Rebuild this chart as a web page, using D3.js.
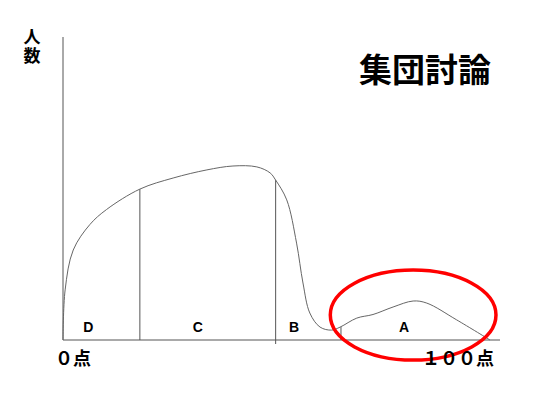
<!DOCTYPE html>
<html>
<head>
<meta charset="utf-8">
<script src="https://cdn.jsdelivr.net/npm/d3@7.9.0/dist/d3.min.js"></script>
<style>
  html, body { margin: 0; padding: 0; background: #fff; }
  svg { display: block; }
  .jp { font-family: "Noto Sans CJK JP", "Noto Sans", sans-serif; font-weight: 700; fill: #000; }
  .grade { font-family: "Liberation Sans", Arial, sans-serif; font-weight: 700; font-size: 14px; fill: #000; }
</style>
</head>
<body>
<svg id="chart" width="550" height="412"></svg>
<script>
// score (0-100) vs number of people
const scores = [0, 0.5, 2.4, 6.3, 10.2, 18, 25.8, 33.7, 39.8, 45.4, 48.5, 49.8, 52.4, 54.7, 56.2, 57.8, 60.2, 62.9, 64.9, 68.8, 72.6, 77.3, 82, 85.2, 92.2, 100];
const people = [0, 16.7, 30, 38.5, 43.5, 50.3, 54, 56.7, 58, 57.7, 55.7, 53.3, 46.7, 32.3, 19, 9, 4.3, 3.3, 4.3, 7.3, 8.5, 11, 13, 12.3, 6.7, 0];

// grade boundaries and where they meet the curve
const cutScores = [18, 49.8, 65.1];
const cutTops = [50.3, 53.3, 4.4];

const grades = ['D', 'C', 'B', 'A'];
const gradeX = [5.9, 31.6, 54.1, 79.9];

const title = '集団討論';
const yLabel = '人数';
const xTickLabels = ['０点', '１００点'];

// highlighted region around A
const ringCenter = [82, 8.3];
const ringRadius = [19.4, 15];

const svg = d3.select('#chart');

const x = d3.scaleLinear().domain([0, 100]).range([63, 490]);
const y = d3.scaleLinear().domain([0, 100]).range([340, 40]);

// axes
svg.append('line')
  .attr('x1', x(0)).attr('x2', x(0))
  .attr('y1', 37).attr('y2', y(0))
  .attr('stroke', '#555').attr('stroke-width', 1);
svg.append('line')
  .attr('x1', x(0)).attr('x2', 500)
  .attr('y1', y(0)).attr('y2', y(0))
  .attr('stroke', '#555').attr('stroke-width', 1);

// grade dividers
cutScores.forEach((s, i) => {
  svg.append('line')
    .attr('x1', x(s)).attr('x2', x(s))
    .attr('y1', i === 1 ? y(0) + 4 : y(0)).attr('y2', y(cutTops[i]))
    .attr('stroke', '#555').attr('stroke-width', 1);
});

// distribution curve
const pts = scores.map((s, i) => [s, people[i]]);
const line = d3.line()
  .x((d) => x(d[0]))
  .y((d) => y(d[1]))
  .curve(d3.curveCatmullRom.alpha(0.5));

svg.append('path')
  .attr('d', line(pts))
  .attr('fill', 'none')
  .attr('stroke', '#666')
  .attr('stroke-width', 1);

// grade letters
grades.forEach((g, i) => {
  svg.append('text')
    .attr('class', 'grade')
    .attr('x', x(gradeX[i]))
    .attr('y', 332)
    .attr('text-anchor', 'middle')
    .text(g);
});

// red ring
svg.append('ellipse')
  .attr('cx', x(ringCenter[0]))
  .attr('cy', y(ringCenter[1]))
  .attr('rx', x(ringRadius[0]) - x(0))
  .attr('ry', y(0) - y(ringRadius[1]))
  .attr('fill', 'none')
  .attr('stroke', '#f00')
  .attr('stroke-width', 3.5);

// title
svg.append('text')
  .attr('class', 'jp')
  .attr('x', 491)
  .attr('y', 82)
  .attr('text-anchor', 'end')
  .attr('font-size', 33)
  .text(title);

// y label, written top to bottom
svg.append('text')
  .attr('class', 'jp')
  .attr('x', 32)
  .attr('y', 28)
  .attr('writing-mode', 'tb')
  .attr('font-size', 17)
  .attr('letter-spacing', 2)
  .text(yLabel);

// x end labels
svg.append('text')
  .attr('class', 'jp')
  .attr('x', 55)
  .attr('y', 365)
  .attr('font-size', 18)
  .text(xTickLabels[0]);
svg.append('text')
  .attr('class', 'jp')
  .attr('x', 494)
  .attr('y', 365)
  .attr('text-anchor', 'end')
  .attr('font-size', 18)
  .text(xTickLabels[1]);
</script>
</body>
</html>
